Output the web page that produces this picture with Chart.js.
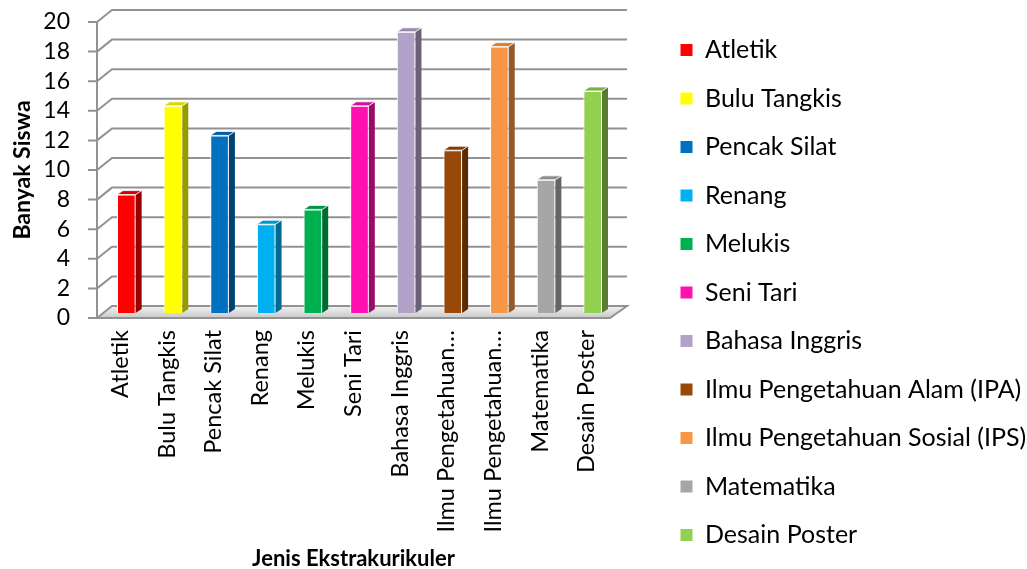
<!DOCTYPE html>
<html>
<head>
<meta charset="utf-8">
<script src="https://cdn.jsdelivr.net/npm/chart.js@4/dist/chart.umd.min.js"></script>
<style>
  html, body { margin: 0; padding: 0; background: #fff; }
  #wrap { width: 1027px; height: 569px; position: relative; }
</style>
</head>
<body>
<div id="wrap"><canvas id="chart"></canvas></div>
<script>
const categories = [
  "Atletik", "Bulu Tangkis", "Pencak Silat", "Renang", "Melukis", "Seni Tari",
  "Bahasa Inggris", "Ilmu Pengetahuan Alam (IPA)", "Ilmu Pengetahuan Sosial (IPS)",
  "Matematika", "Desain Poster"
];
const siswa = [8, 14, 12, 6, 7, 14, 19, 11, 18, 9, 15];
const barColors = [
  "#ff0000", "#ffff00", "#0070c0", "#00b0f0", "#00b050", "#ff10b0",
  "#b3a2c7", "#984807", "#f79646", "#a6a6a6", "#92d050"
];
const yTicks = [0, 2, 4, 6, 8, 10, 12, 14, 16, 18, 20];

// depth of the 3d box and of the bars
const DX = 15, DY = 12;
const BAR_DX = 6, BAR_DY = 5;
const SIDE = 6;
const GRID = "#929292";

function shade(hex, f) {
  const n = parseInt(hex.slice(1), 16);
  const r = Math.round(((n >> 16) & 255) * f);
  const g = Math.round(((n >> 8) & 255) * f);
  const b = Math.round((n & 255) * f);
  return `rgb(${r},${g},${b})`;
}

const box3d = {
  id: "box3d",
  afterLayout(chart) {
    // push the legend column down a little
    chart.legend.top += 8;
    chart.legend.bottom += 8;
  },
  beforeDatasetsDraw(chart) {
    const {ctx, chartArea: a, scales} = chart;
    const y = scales.y;
    ctx.save();
    ctx.strokeStyle = GRID;
    ctx.lineWidth = 2;

    // floor
    const y0 = y.getPixelForValue(0);
    const grad = ctx.createLinearGradient(0, y0 - DY, 0, y0);
    grad.addColorStop(0, "#f2f2f2");
    grad.addColorStop(1, "#c8c8c8");
    ctx.beginPath();
    ctx.moveTo(a.left, y0);
    ctx.lineTo(a.right, y0);
    ctx.lineTo(a.right + DX + 2, y0 - DY);
    ctx.lineTo(a.left + DX, y0 - DY);
    ctx.closePath();
    ctx.fillStyle = grad;
    ctx.fill();
    ctx.stroke();

    // back wall gridlines
    yTicks.forEach(v => {
      if (v === 0) return;
      const py = y.getPixelForValue(v);
      ctx.beginPath();
      ctx.moveTo(a.left, py);
      ctx.lineTo(a.left + DX, py - DY);
      ctx.lineTo(a.right + DX + 2, py - DY);
      ctx.stroke();
    });

    // front axis with tick marks
    ctx.beginPath();
    ctx.moveTo(a.left, y.getPixelForValue(20));
    ctx.lineTo(a.left, y0);
    yTicks.forEach(v => {
      const py = y.getPixelForValue(v);
      ctx.moveTo(a.left - 9, py);
      ctx.lineTo(a.left, py);
    });
    ctx.stroke();
    ctx.restore();

    ctx.save();
    ctx.translate(BAR_DX, -BAR_DY);
  },
  afterDatasetsDraw(chart) {
    const {ctx} = chart;
    const meta = chart.getDatasetMeta(0);
    meta.data.forEach((bar, i) => {
      const {x, y, base, width} = bar.getProps(["x", "y", "base", "width"], true);
      const l = x - width / 2, r = x + width / 2;
      const c = barColors[i];
      // side face
      ctx.beginPath();
      ctx.moveTo(r, y);
      ctx.lineTo(r + SIDE, y - 4);
      ctx.lineTo(r + SIDE, base - 4);
      ctx.lineTo(r, base);
      ctx.closePath();
      ctx.fillStyle = shade(c, 0.6);
      ctx.fill();
      // top face
      ctx.beginPath();
      ctx.moveTo(l, y);
      ctx.lineTo(l + SIDE, y - 4);
      ctx.lineTo(r + SIDE, y - 4);
      ctx.lineTo(r, y);
      ctx.closePath();
      ctx.fillStyle = shade(c, 0.85);
      ctx.fill();
      ctx.strokeStyle = "rgba(255,255,255,0.8)";
      ctx.lineWidth = 1;
      ctx.stroke();
    });
    ctx.restore();
  }
};

const ctx = document.getElementById("chart").getContext("2d");
// keep Lato from drawing the "ti" ligature
ctx.textRendering = "optimizeSpeed";
new Chart(ctx, {
  type: "bar",
  data: {
    labels: categories,
    datasets: [{
      label: "Banyak Siswa",
      data: siswa,
      backgroundColor: barColors,
      borderColor: "#ffffff",
      borderWidth: 1,
      barPercentage: 0.4,
      categoryPercentage: 1,
      clip: false
    }]
  },
  options: {
    responsive: true,
    maintainAspectRatio: false,
    animation: false,
    layout: { padding: 0 },
    plugins: {
      tooltip: { enabled: false },
      legend: {
        position: "right",
        maxWidth: 370,
        labels: {
          color: "#000",
          font: { family: "Lato", size: 25 },
          boxWidth: 12,
          boxHeight: 12,
          padding: 23.5,
          generateLabels: () => categories.map((c, i) => ({
            text: c,
            fillStyle: barColors[i],
            strokeStyle: barColors[i],
            lineWidth: 0,
            hidden: false,
            index: i
          }))
        }
      }
    },
    scales: {
      x: {
        grid: { display: false, drawTicks: false },
        border: { display: false },
        ticks: {
          color: "#000",
          font: { family: "Lato", size: 23.5 },
          minRotation: 90,
          maxRotation: 90,
          autoSkip: false,
          padding: 12,
          callback: function (v) {
            const lbl = this.getLabelForValue(v);
            return lbl.length > 20 ? lbl.slice(0, 16) + "\u2026" : lbl;
          }
        },
        title: {
          display: true,
          text: "Jenis Ekstrakurikuler",
          color: "#000",
          font: { family: "Lato", size: 22, weight: "bold" },
          padding: { top: 0, bottom: -3 }
        },
        afterFit: s => { s.height = 251; }
      },
      y: {
        min: 0,
        max: 20,
        grid: { display: false, drawTicks: true, tickLength: 23 },
        border: { display: false },
        ticks: {
          stepSize: 2,
          autoSkip: false,
          color: "#000",
          font: { family: "Lato", size: 23 },
          padding: 4
        },
        title: {
          display: true,
          text: "Banyak Siswa",
          color: "#000",
          font: { family: "Lato", size: 23, weight: "bold" },
          padding: { top: 8.5, bottom: 3 }
        },
        afterFit: s => {
          s.width = 97;
          s.paddingTop = 22;
        }
      },
      gap: {
        type: "linear",
        axis: "y",
        position: "right",
        grid: { display: false, drawTicks: false },
        border: { display: false },
        ticks: { display: false },
        afterFit: s => { s.width = 47; }
      }
    }
  },
  plugins: [box3d]
});
</script>
</body>
</html>
